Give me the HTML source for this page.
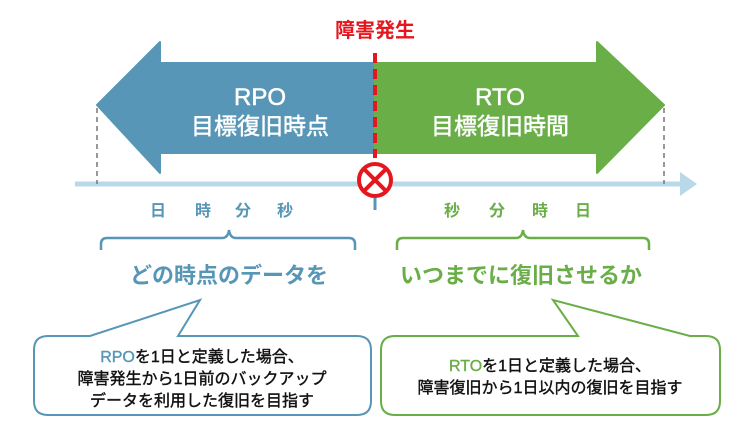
<!DOCTYPE html>
<html><head><meta charset="utf-8"><style>
html,body{margin:0;padding:0;background:#fff;}
svg{display:block;font-family:"Liberation Sans","Noto Sans CJK JP",sans-serif;}
</style></head><body>
<svg width="750" height="433" viewBox="0 0 750 433" xmlns="http://www.w3.org/2000/svg">
<line x1="75" y1="184" x2="684" y2="184" stroke="#b9d8e8" stroke-width="5"/>
<polygon points="680,172 697,184 680,196" fill="#b9d8e8"/>
<line x1="97" y1="108" x2="97" y2="184" stroke="#777" stroke-width="1.5" stroke-dasharray="5,4"/>
<line x1="664" y1="108" x2="664" y2="184" stroke="#777" stroke-width="1.5" stroke-dasharray="5,4"/>
<polygon points="97,105 160,42 160,63 375,63 375,153 160,153 160,173" fill="#5796b6" stroke="#5796b6" stroke-width="2" stroke-linejoin="round"/>
<polygon points="664,105 597,42 597,63 375,63 375,153 597,153 597,173" fill="#6aae48" stroke="#6aae48" stroke-width="2" stroke-linejoin="round"/>
<g fill="#fff" stroke="#fff" stroke-width="0.5" text-anchor="middle">
<text x="260" y="105" font-size="24">RPO</text>
<text x="260" y="134" font-size="23">目標復旧時点</text>
<text x="500" y="105" font-size="24">RTO</text>
<text x="500" y="134" font-size="23">目標復旧時間</text>
</g>
<text x="375" y="37" fill="#e5161d" font-size="20" font-weight="bold" text-anchor="middle">障害発生</text>
<line x1="375" y1="53" x2="375" y2="158" stroke="#e5161d" stroke-width="4" stroke-dasharray="10,6"/>
<line x1="375" y1="196" x2="375" y2="210" stroke="#5796b6" stroke-width="3"/>
<circle cx="375" cy="180" r="16" fill="#fff" stroke="#e5161d" stroke-width="4"/>
<line x1="364" y1="169" x2="386" y2="191" stroke="#e5161d" stroke-width="4"/>
<line x1="386" y1="169" x2="364" y2="191" stroke="#e5161d" stroke-width="4"/>
<g font-size="16" font-weight="bold" text-anchor="middle" fill="#5796b6">
<text x="158" y="216">日</text><text x="203" y="216">時</text><text x="243" y="216">分</text><text x="285" y="216">秒</text>
</g>
<g font-size="16" font-weight="bold" text-anchor="middle" fill="#6aae48">
<text x="452" y="216">秒</text><text x="497" y="216">分</text><text x="540" y="216">時</text><text x="583" y="216">日</text>
</g>
<path d="M101,250 V244 Q101,238 107,238 H222 Q228,238 229,230 Q230,238 236,238 H349 Q355,238 355,244 V250" fill="none" stroke="#5796b6" stroke-width="2.5"/>
<path d="M397,250 V244 Q397,238 403,238 H516 Q522,238 523,230 Q524,238 530,238 H643 Q649,238 649,244 V250" fill="none" stroke="#6aae48" stroke-width="2.5"/>
<text x="229" y="283" fill="#5796b6" font-size="22" font-weight="bold" text-anchor="middle">どの時点のデータを</text>
<text x="521" y="283" fill="#6aae48" font-size="22" font-weight="bold" text-anchor="middle">いつまでに復旧させるか</text>
<path d="M48,336 H90 L200,300 L178,336 H357 Q371,336 371,350 V401 Q371,415 357,415 H48 Q34,415 34,401 V350 Q34,336 48,336 Z" fill="#fff" stroke="#5796b6" stroke-width="2"/>
<path d="M395,336 H578 L553,300 L690,336 H706 Q720,336 720,350 V401 Q720,415 706,415 H395 Q381,415 381,401 V350 Q381,336 395,336 Z" fill="#fff" stroke="#6aae48" stroke-width="2"/>
<g font-size="16" text-anchor="middle" fill="#111" stroke="#111" stroke-width="0.4">
<text x="202" y="362"><tspan fill="#5796b6" stroke="#5796b6">RPO</tspan>を1日と定義した場合、</text>
<text x="202" y="384">障害発生から1日前のバックアップ</text>
<text x="202" y="406">データを利用した復旧を目指す</text>
<text x="550" y="371"><tspan fill="#6aae48" stroke="#6aae48">RTO</tspan>を1日と定義した場合、</text>
<text x="550" y="393">障害復旧から1日以内の復旧を目指す</text>
</g>
</svg>
</body></html>
